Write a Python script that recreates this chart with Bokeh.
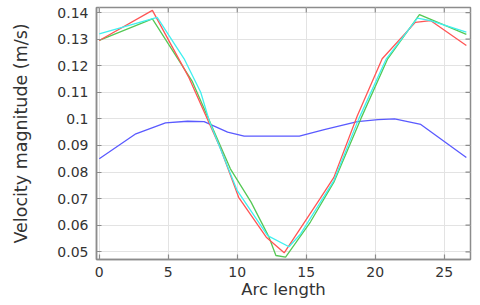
import math
from bokeh.plotting import figure
from bokeh.models import FixedTicker, Range1d
from bokeh.embed import file_html
from bokeh.resources import INLINE

# --- data ---
blue_x = [0, 2.65, 4.8, 6.4, 7.6, 9.3, 10.5, 14.5, 16.3, 18.7, 20.2, 21.4, 23.3, 26.6]
blue_y = [0.085, 0.0944, 0.0985, 0.0991, 0.099, 0.095, 0.0935, 0.0935, 0.096, 0.099, 0.0997, 0.1, 0.0979, 0.0855]

green_x = [0, 3.85, 6.75, 9.5, 11.0, 12.3, 12.8, 13.5, 15.3, 17.0, 18.95, 20.9, 23.2, 26.6]
green_y = [0.1295, 0.1376, 0.114, 0.0812, 0.0687, 0.0555, 0.0486, 0.048, 0.0612, 0.0762, 0.1, 0.1226, 0.1392, 0.1318]

red_x = [0, 3.85, 6.5, 8.8, 10.1, 12.1, 13.4, 16.0, 17.0, 18.7, 20.5, 22.9, 24.0, 26.6]
red_y = [0.1295, 0.1408, 0.1155, 0.0887, 0.0705, 0.0555, 0.0496, 0.070, 0.078, 0.1012, 0.1226, 0.1363, 0.137, 0.1276]

cyan_x = [0, 4.2, 6.15, 7.35, 8.0, 10.0, 12.2, 13.75, 14.6, 17.0, 18.8, 20.8, 23.05, 24.0, 26.6]
cyan_y = [0.132, 0.1382, 0.1226, 0.110, 0.0988, 0.073, 0.0561, 0.0519, 0.0568, 0.0768, 0.1, 0.1226, 0.1379, 0.137, 0.1326]

x_ticks = [0, 5, 10, 15, 20, 25]
x_tick_labels = ["0", "5", "10", "15", "20", "25"]
y_ticks = [0.05, 0.06, 0.07, 0.08, 0.09, 0.1, 0.11, 0.12, 0.13, 0.14]
y_tick_labels = ["0.05", "0.06", "0.07", "0.08", "0.09", "0.1", "0.11", "0.12", "0.13", "0.14"]

x_label = "Arc length"
y_label = "Velocity magnitude (m/s)"

X_MIN, X_MAX = -0.2, 26.9
Y_MIN, Y_MAX = 0.0471, 0.1419

FONT = "DejaVu Sans"
FRAME = "#8c8c8c"
TEXT = "#333333"

p = figure(
    output_backend="svg", toolbar_location=None,
    frame_width=374, frame_height=252,
    min_border_left=96, min_border_right=6, min_border_top=7, min_border_bottom=4,
    x_range=Range1d(X_MIN, X_MAX), y_range=Range1d(Y_MIN, Y_MAX),
    x_axis_label=x_label, y_axis_label=y_label,
)
p.background_fill_color = "white"
p.border_fill_color = "white"
p.outline_line_color = FRAME
p.outline_line_width = 1.5

p.xgrid.grid_line_color = "#e3e3e3"
p.ygrid.grid_line_color = "#e3e3e3"

p.line(blue_x, blue_y, line_color="#5a5aff", line_width=1.3)
p.line(green_x, green_y, line_color="#55c855", line_width=1.3)
p.line(red_x, red_y, line_color="#ff5555", line_width=1.3)
p.line(cyan_x, cyan_y, line_color="#40f0f0", line_width=1.3)

# mirrored inward ticks on the top and right edges of the frame
p.ray(x=x_ticks, y=[Y_MAX] * len(x_ticks), length=5, length_units="screen",
      angle=-math.pi / 2, line_color=FRAME, line_width=1.2)
p.ray(x=[X_MAX] * len(y_ticks), y=y_ticks, length=5, length_units="screen",
      angle=math.pi, line_color=FRAME, line_width=1.2)


def style(ax, ticks, labels):
    ax.ticker = FixedTicker(ticks=ticks)
    ax.major_label_overrides = {t: l for t, l in zip(ticks, labels)}
    ax.major_tick_in = 5
    ax.major_tick_out = 0
    ax.minor_tick_in = 0
    ax.minor_tick_out = 0
    ax.axis_line_color = FRAME
    ax.axis_line_width = 1.5
    ax.major_tick_line_color = FRAME
    ax.major_tick_line_width = 1.2
    ax.major_label_text_font = FONT
    ax.major_label_text_font_size = "14px"
    ax.major_label_text_color = TEXT
    ax.axis_label_text_font = FONT
    ax.axis_label_text_font_style = "normal"
    ax.axis_label_text_color = TEXT


xa = p.xaxis[0]
style(xa, x_ticks, x_tick_labels)
xa.major_label_standoff = 7
xa.axis_label_text_font_size = "16.5px"
xa.axis_label_standoff = 0

ya = p.yaxis[0]
style(ya, y_ticks, y_tick_labels)
ya.major_label_standoff = 8
ya.axis_label_text_font_size = "17.5px"
ya.axis_label_standoff = 23

open("out.html", "w").write(file_html(p, INLINE))
